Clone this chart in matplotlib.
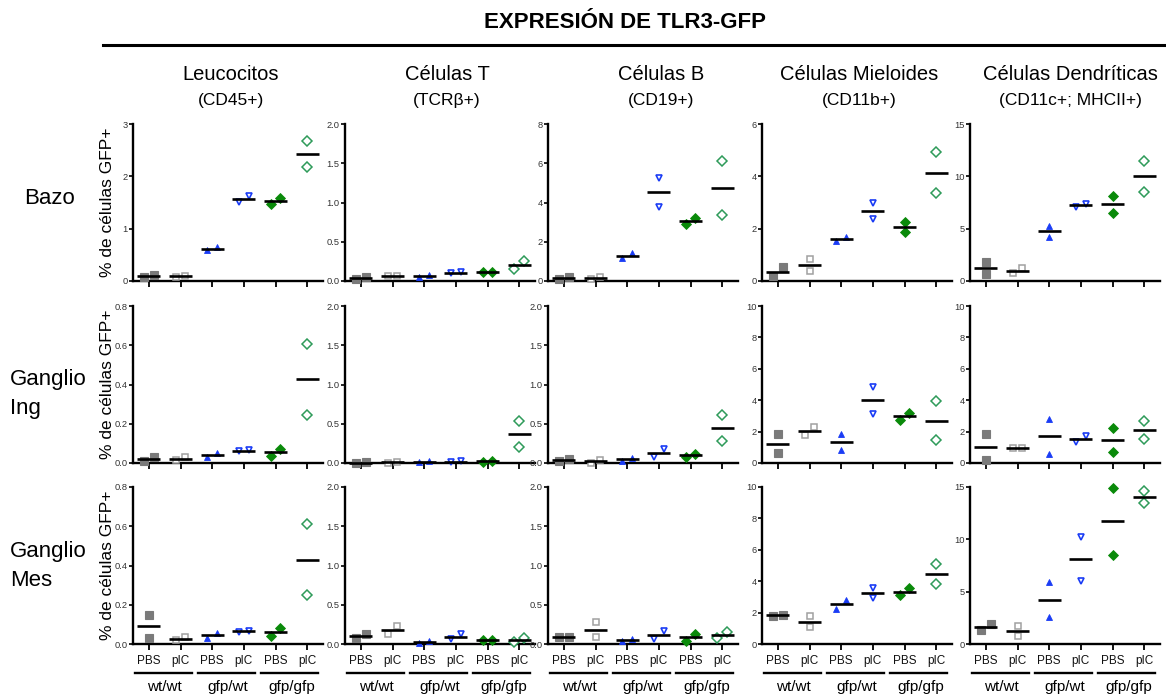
import numpy as np
import matplotlib
matplotlib.use("Agg")
import matplotlib.pyplot as plt
from matplotlib import transforms
from matplotlib.lines import Line2D

plt.rcParams['font.family'] = ['Liberation Sans', 'DejaVu Sans']

# ---------------- text ----------------
title = "EXPRESIÓN DE TLR3-GFP"
cell_types = ["Leucocitos", "Células T", "Células B", "Células Mieloides", "Células Dendríticas"]
cell_markers = ["(CD45+)", "(TCRβ+)", "(CD19+)", "(CD11b+)", "(CD11c+; MHCII+)"]
tissues = ["Bazo", "Ganglio\nIng", "Ganglio\nMes"]
treatments = ["PBS", "pIC"]
genotypes = ["wt/wt", "gfp/wt", "gfp/gfp"]
ylabel = "% de células GFP+"

# ---------------- axis scales (rows: tissue, cols: cell type) ----------------
ymax = [[3, 2, 8, 6, 15],
        [0.8, 2, 2, 10, 10],
        [0.8, 2, 2, 10, 15]]
ystep = [[1, 0.5, 2, 2, 5],
         [0.2, 0.5, 0.5, 2, 2],
         [0.2, 0.5, 0.5, 2, 5]]
ydec = [[0, 1, 0, 0, 0],
        [1, 1, 1, 0, 0],
        [1, 1, 1, 0, 0]]

# ---------------- data: 6 groups (wt PBS, wt pIC, gfp/wt PBS, gfp/wt pIC, gfp/gfp PBS, gfp/gfp pIC), 2 mice each
bazo_leuco = [(0.077, 0.12), (0.085, 0.10), (0.59, 0.65), (1.51, 1.62), (1.48, 1.59), (2.68, 2.17)]
bazo_T = [(0.03, 0.05), (0.06, 0.065), (0.05, 0.08), (0.10, 0.115), (0.11, 0.115), (0.15, 0.26)]
bazo_B = [(0.08, 0.22), (0.08, 0.20), (1.17, 1.42), (5.27, 3.77), (2.88, 3.23), (6.12, 3.38)]
bazo_mielo = [(0.19, 0.52), (0.39, 0.83), (1.54, 1.67), (2.98, 2.37), (1.86, 2.27), (4.92, 3.36)]
bazo_dc = [(1.80, 0.70), (0.73, 1.20), (5.27, 4.23), (7.10, 7.36), (8.08, 6.54), (11.5, 8.5)]

ing_leuco = [(0.008, 0.029), (0.015, 0.029), (0.029, 0.052), (0.059, 0.064), (0.037, 0.071), (0.608, 0.245)]
ing_T = [(0.0, 0.01), (0.005, 0.015), (0.01, 0.02), (0.01, 0.02), (0.01, 0.03), (0.53, 0.20)]
ing_B = [(0.02, 0.05), (0.0, 0.04), (0.03, 0.07), (0.08, 0.18), (0.076, 0.118), (0.615, 0.286)]
ing_mielo = [(1.85, 0.62), (1.81, 2.27), (1.87, 0.83), (4.87, 3.10), (2.75, 3.19), (3.94, 1.46)]
ing_dc = [(1.85, 0.20), (0.96, 0.97), (2.83, 0.56), (1.35, 1.73), (2.23, 0.69), (2.67, 1.56)]

mes_leuco = [(0.15, 0.032), (0.02, 0.035), (0.032, 0.056), (0.062, 0.068), (0.042, 0.079), (0.609, 0.251)]
mes_T = [(0.08, 0.13), (0.13, 0.225), (0.017, 0.038), (0.06, 0.13), (0.05, 0.055), (0.025, 0.08)]
mes_B = [(0.093, 0.095), (0.275, 0.09), (0.034, 0.07), (0.068, 0.165), (0.042, 0.127), (0.076, 0.15)]
mes_mielo = [(1.78, 1.87), (1.76, 1.10), (2.83, 2.24), (3.58, 2.90), (3.14, 3.54), (5.09, 3.79)]
mes_dc = [(1.32, 1.89), (1.73, 0.79), (5.88, 2.58), (10.19, 6.04), (14.9, 8.55), (13.5, 14.6)]

panels = [[bazo_leuco, bazo_T, bazo_B, bazo_mielo, bazo_dc],
          [ing_leuco, ing_T, ing_B, ing_mielo, ing_dc],
          [mes_leuco, mes_T, mes_B, mes_mielo, mes_dc]]

# ---------------- marker styles per group ----------------
GRAY, GRAY_O = '#7a7a7a', '#a0a0a0'
BLUE = '#1a3cf5'
GREEN, GREEN_O = '#0a8a0a', '#2e9b5a'
styles = [
    dict(marker='s', ms=5.2, mfc=GRAY, mec=GRAY, mew=0.8),
    dict(marker='s', ms=5.0, mfc='white', mec=GRAY_O, mew=1.1),
    dict(marker='^', ms=4.2, mfc=BLUE, mec=BLUE, mew=0.6),
    dict(marker='v', ms=5.0, mfc='white', mec=BLUE, mew=1.2),
    dict(marker='D', ms=4.6, mfc=GREEN, mec=GREEN, mew=0.6),
    dict(marker='D', ms=5.2, mfc='white', mec=GREEN_O, mew=1.1),
]

# ---------------- layout ----------------
W, H = 1166, 694
fig = plt.figure(figsize=(W / 100, H / 100), dpi=100)
fig.patch.set_facecolor('white')


def fx(px):
    return px / W


def fy(py):
    return 1 - py / H


col_left = [133, 345, 548, 762, 970]
col_title_x = [231, 447, 661, 859, 1070]
ax_w = 190
row_top = [124, 306, 487]
ax_h = 157

for r in range(3):
    for c in range(5):
        left, top = col_left[c], row_top[r]
        ax = fig.add_axes([fx(left), fy(top + ax_h), ax_w / W, ax_h / H])
        ym = ymax[r][c]
        data = panels[r][c]
        for g, vals in enumerate(data):
            v = np.sort(np.array(vals, dtype=float))
            if abs(v[1] - v[0]) < 0.06 * ym:
                xs = np.array([g - 0.15, g + 0.15])
            else:
                xs = np.array([g, g], dtype=float)
            ax.plot(xs, v, linestyle='none', clip_on=False, zorder=3, **styles[g])
            m = v.mean()
            ax.plot([g - 0.36, g + 0.36], [m, m], color='black', lw=1.9,
                    solid_capstyle='butt', zorder=4, clip_on=False)
        for s in ['top', 'right']:
            ax.spines[s].set_visible(False)
        for s in ['left', 'bottom']:
            ax.spines[s].set_linewidth(1.7)
            ax.spines[s].set_color('black')
        yt = np.arange(0, ym + ystep[r][c] / 2, ystep[r][c])
        ax.set_yticks(yt)
        ax.set_yticklabels([f"{t:.{ydec[r][c]}f}" for t in yt])
        ax.set_xticks(range(6))
        ax.set_xticklabels([])
        ax.tick_params(axis='y', length=3, width=1.2, labelsize=6.7,
                       labelcolor='#333333', pad=1)
        ax.tick_params(axis='x', length=4, width=1.3)
        ax.set_xlim(-0.5, 5.5)
        ax.set_ylim(0, ym)

        if r == 2:
            tr = transforms.blended_transform_factory(ax.transData, fig.transFigure)
            for i in range(6):
                ax.text(i, fy(661), treatments[i % 2], transform=tr, ha='center',
                        va='center', fontsize=8.5, color='#111111')
            for gi in range(3):
                ax.add_line(Line2D([2 * gi - 0.45, 2 * gi + 1.35], [fy(673), fy(673)],
                                   transform=tr, color='black', lw=1.7, clip_on=False))
                ax.text(2 * gi + 0.5, fy(687), genotypes[gi], transform=tr,
                        ha='center', va='center', fontsize=11)
            ax.set_xlim(-0.5, 5.5)
            ax.set_ylim(0, ym)

    # y label for row
    fig.text(fx(108), fy(row_top[r] + ax_h / 2), ylabel, rotation=90,
             ha='center', va='center', fontsize=12.5)

# column headers
for c in range(5):
    fig.text(fx(col_title_x[c]), fy(75), cell_types[c], ha='center', va='center', fontsize=14.5)
    fig.text(fx(col_title_x[c]), fy(100), cell_markers[c], ha='center', va='center', fontsize=12.5)

# row labels
fig.text(fx(50), fy(198), tissues[0], ha='center', va='center', fontsize=16)
fig.text(fx(10), fy(394), tissues[1], ha='left', va='center', fontsize=16, linespacing=1.55)
fig.text(fx(10), fy(566), tissues[2], ha='left', va='center', fontsize=16, linespacing=1.55)

# main title and rule
fig.text(fx(625), fy(22), title, ha='center', va='center', fontsize=16, fontweight='bold')
fig.add_artist(Line2D([fx(103), fx(1166)], [fy(45), fy(45)], color='black', lw=2.2))

fig.savefig("out.png", dpi=100)
